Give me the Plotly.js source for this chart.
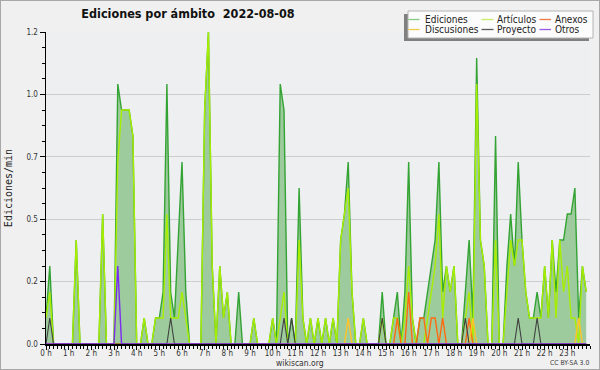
<!DOCTYPE html>
<html><head><meta charset="utf-8">
<script src="https://cdn.plot.ly/plotly-3.0.1.min.js"></script>
<style>
html,body{margin:0;padding:0;background:#f0f0f0;}
#wrap{position:absolute;left:0;top:0;width:598px;height:368px;border:1px solid #a8a8a8;}
#chart{width:598px;height:368px;}
</style></head><body>
<div id="wrap"><div id="chart"></div></div>
<script>
// 10-minute bins, edits per minute
const ediciones = [
 0.1,0.3,0,0,0,0,0,0,0.4,0,0,0,
 0,0,0,0.5,0,0,0,1.0,0.9,0.9,0.9,0.8,
 0,0,0.1,0,0,0.1,0.1,0.2,1.0,0.2,0.1,0.4,
 0.7,0.2,0,0,0,0,0.9,1.2,0.3,0,0.3,0.1,
 0.2,0,0,0.2,0,0,0,0.1,0,0,0,0,
 0.1,0,1.0,0.9,0,0.1,0,0.6,0.1,0,0.1,0,
 0.1,0,0.1,0,0.1,0,0.4,0.5,0.7,0.2,0,0,
 0.1,0,0,0,0,0.2,0,0,0.1,0.2,0,0.2,
 0.7,0.1,0,0.1,0.1,0.2,0.3,0.4,0.7,0.2,0.3,0.2,
 0.3,0,0,0.2,0.4,0.1,1.1,0.4,0.3,0,0,0.8,
 0,0,0.3,0.5,0.3,0.7,0.4,0.2,0.1,0.1,0.2,0.1,
 0.3,0.1,0.4,0.2,0.4,0.4,0.5,0.5,0.6,0.1,0.3,0.2
];
const articulos = [
 0.1,0.2,0,0,0,0,0,0,0.4,0,0,0,
 0,0,0,0.5,0,0,0,0.7,0.9,0.9,0.9,0.8,
 0,0,0.1,0,0,0.1,0.1,0.1,0.5,0.1,0.1,0.1,
 0.2,0.1,0,0,0,0,0.9,1.2,0.3,0,0.3,0.1,
 0.2,0,0,0,0,0,0,0.1,0,0,0,0,
 0.1,0,0.1,0.2,0,0,0,0.4,0.1,0,0.1,0,
 0.1,0,0.1,0,0.1,0,0.4,0.5,0.6,0.2,0,0,
 0.1,0,0,0,0,0.1,0,0,0.1,0.1,0,0.1,
 0.3,0.1,0,0,0,0.1,0.2,0.3,0.5,0.1,0.3,0.2,
 0.3,0,0,0.1,0.2,0,1.0,0.4,0.3,0,0,0.4,
 0,0,0.2,0.4,0.3,0.4,0.4,0.2,0.1,0.1,0.1,0.1,
 0.3,0.1,0.4,0.1,0.4,0.2,0.3,0.1,0.1,0,0.3,0.2
];
const anexos = [
 0,0,0,0,0,0,0,0,0,0,0,0,
 0,0,0,0,0,0,0,0,0,0,0,0,
 0,0,0,0,0,0,0,0,0,0,0,0,
 0,0,0,0,0,0,0,0,0,0,0,0,
 0,0,0,0,0,0,0,0,0,0,0,0,
 0,0,0,0,0,0,0,0,0,0,0,0,
 0,0,0,0,0,0,0,0,0,0,0,0,
 0,0,0,0,0,0,0,0,0,0.1,0,0,
 0.2,0,0,0.1,0.1,0,0.1,0.1,0,0.1,0,0,
 0,0,0,0,0.1,0,0,0,0,0,0,0,
 0,0,0,0,0,0,0,0,0,0,0,0,
 0,0,0,0,0,0,0,0,0,0,0,0
];
const discusiones = [
 0,0,0,0,0,0,0,0,0,0,0,0,
 0,0,0,0,0,0,0,0,0,0,0,0,
 0,0,0,0,0,0,0,0,0,0,0,0,
 0,0,0,0,0,0,0,0,0,0,0,0,
 0,0,0,0,0,0,0,0,0,0,0,0,
 0,0,0,0,0,0,0,0,0,0,0,0,
 0,0,0,0,0,0,0,0,0.1,0,0,0,
 0,0,0,0,0,0,0,0,0,0,0,0,
 0,0,0,0,0,0,0,0,0,0,0,0,
 0,0,0,0,0,0.1,0,0,0,0,0,0,
 0,0,0,0,0,0,0,0,0,0,0,0,
 0,0,0,0,0,0,0,0,0,0.1,0,0
];
const proyecto = [
 0,0.1,0,0,0,0,0,0,0,0,0,0,
 0,0,0,0,0,0,0,0,0,0,0,0,
 0,0,0,0,0,0,0,0,0,0.1,0,0,
 0,0,0,0,0,0,0,0,0,0,0,0,
 0,0,0,0,0,0,0,0,0,0,0,0,
 0,0,0,0.1,0,0.1,0,0,0,0,0,0,
 0,0,0,0,0,0,0,0,0,0,0,0,
 0,0,0,0,0,0.1,0,0,0,0,0,0,
 0,0,0,0,0,0,0,0,0,0,0,0,
 0,0,0,0.1,0,0,0,0,0,0,0,0,
 0,0,0,0,0,0.1,0,0,0,0,0.1,0,
 0,0,0,0,0,0,0,0,0,0,0,0
];
const otros = [
 0,0,0,0,0,0,0,0,0,0,0,0,
 0,0,0,0,0,0,0,0.3,0,0,0,0,
 0,0,0,0,0,0,0,0,0,0,0,0,
 0,0,0,0,0,0,0,0,0,0,0,0,
 0,0,0,0,0,0,0,0,0,0,0,0,
 0,0,0,0,0,0,0,0,0,0,0,0,
 0,0,0,0,0,0,0,0,0,0,0,0,
 0,0,0,0,0,0,0,0,0,0,0,0,
 0,0,0,0,0,0,0,0,0,0,0,0,
 0,0,0,0,0,0,0,0,0,0,0,0,
 0,0,0,0,0,0,0,0,0,0,0,0,
 0,0,0,0,0,0,0,0,0,0,0,0
];
const hourTicks = [0,1,2,3,4,5,6,7,8,9,10,11,12,13,14,15,16,17,18,19,20,21,22,23];
const hourLabels = ["0 h","1 h","2 h","3 h","4 h","5 h","6 h","7 h","8 h","9 h","10 h","11 h","12 h","13 h","14 h","15 h","16 h","17 h","18 h","19 h","20 h","21 h","22 h","23 h"];
const yTickVals = [0,0.24,0.48,0.72,0.96,1.2];
const yTickText = ["0.0","0.2","0.5","0.7","1.0","1.2"];
const seriesNames = ["Ediciones","Artículos","Anexos","Discusiones","Proyecto","Otros"];
const seriesColors = ["#33a333","#a8ee00","#ff6a10","#ffc428","#404040","#7b2cf0"];
const legendColors = ["#88cc88","#c6ee66","#ee7a48","#f0cc48","#5a5a5a","#9a5ae8"];

const seriesData = [ediciones, articulos, anexos, discusiones, proyecto, otros];
// x position of each 10-minute bin, in hours
const binHours = ediciones.map((_, i) => i / 6);

const traces = seriesData.map((ys, k) => {
  const t = {
    type: 'scatter', mode: 'lines', name: seriesNames[k],
    x: binHours, y: ys, showlegend: false,
    line: {color: seriesColors[k], width: k === 4 ? 1.1 : 1.4},
    hoverinfo: 'skip'
  };
  if (k === 0) { t.fill = 'tozeroy'; t.fillcolor = '#9ecb9e'; }
  return t;
});

// pixel helpers (chart-div coords) -> paper
const L = 45, T = 31, W = 544, H = 312;
const px = X => (X - L) / W;
const py = Y => (T + H - Y) / H;

const FONT = 'DejaVu Sans Condensed, DejaVu Sans, sans-serif';
const shapes = [
  {type:'rect', xref:'paper', yref:'paper', x0:px(403), x1:px(588), y0:py(40), y1:py(13),
   fillcolor:'#808080', line:{width:0}, layer:'above'},
  {type:'rect', xref:'paper', yref:'paper', x0:px(407), x1:px(592), y0:py(37), y1:py(10),
   fillcolor:'#fcfcfc', line:{color:'#b4b4b4', width:1}, layer:'above'}
];
const annotations = [];
const colX = [[407.5, 418.5, 422.5], [480.5, 492.5, 495], [538.5, 550, 553]];
const rowY = [18.5, 28.5];
seriesNames.forEach((nm, k) => {
  const c = k % 3, r = Math.floor(k / 3);
  shapes.push({type:'line', xref:'paper', yref:'paper', x0:px(colX[c][0]), x1:px(colX[c][1]),
    y0:py(rowY[r]), y1:py(rowY[r]), line:{color:legendColors[k], width:1.3}, layer:'above'});
  annotations.push({xref:'paper', yref:'paper', x:px(colX[c][2]), y:py(rowY[r]), xanchor:'left', yanchor:'middle',
    text:nm, showarrow:false, font:{family:FONT, size:10, color:'#222'}, borderpad:0});
});
annotations.push({xref:'paper', yref:'paper', x:px(299), y:py(362), xanchor:'center', yanchor:'middle',
  text:'wikiscan.org', showarrow:false, font:{family:FONT, size:8.5, color:'#333'}, borderpad:0});
annotations.push({xref:'paper', yref:'paper', x:px(589), y:py(362), xanchor:'right', yanchor:'middle',
  text:'CC BY-SA 3.0', showarrow:false, font:{family:FONT, size:6.8, color:'#444'}, borderpad:0});

const layout = {
  width: 598, height: 368,
  margin: {l: L, r: 598 - L - W, t: T, b: 368 - T - H, pad: 0},
  paper_bgcolor: '#f0f0f0', plot_bgcolor: '#eeeff1',
  showlegend: false,
  title: {text: 'Ediciones por ámbito\u00a0\u00a02022-08-08', font: {family: FONT, size: 12.5, color: '#111', weight: 'bold'},
    x: px(187), xref: 'paper', xanchor: 'center', y: 1 - 13/368, yref: 'container', yanchor: 'middle'},
  xaxis: {range: [0, 24], tickmode: 'array', tickvals: hourTicks, ticktext: hourLabels,
    ticks: 'outside', ticklen: 4, tickwidth: 1, tickcolor: '#000', showline: true, linecolor: '#000', linewidth: 1.5,
    showgrid: false, zeroline: false, tickfont: {family: FONT, size: 8, color: '#333'}, ticklabelstandoff: -3,
    minor: {tickmode: 'linear', tick0: 0, dtick: 1/6, ticks: 'outside', ticklen: 3, tickwidth: 1, tickcolor: '#000', showgrid: false}},
  yaxis: {range: [0, 1.2], tickmode: 'array', tickvals: yTickVals, ticktext: yTickText,
    ticks: 'outside', ticklen: 5, tickwidth: 1, tickcolor: '#000', showline: true, linecolor: '#000', linewidth: 1.5,
    showgrid: true, gridcolor: '#cdcdcd', gridwidth: 1, zeroline: false,
    tickfont: {family: FONT, size: 8, color: '#333'},
    title: {text: 'Ediciones/min', font: {family: 'DejaVu Sans Mono, monospace', size: 10, color: '#222'}, standoff: 12},
    minor: {tickmode: 'linear', tick0: 0, dtick: 0.06, ticks: 'outside', ticklen: 3, tickwidth: 1, tickcolor: '#000', showgrid: false}},
  shapes: shapes, annotations: annotations
};
Plotly.newPlot('chart', traces, layout, {staticPlot: true, displayModeBar: false});
</script>
</body></html>
